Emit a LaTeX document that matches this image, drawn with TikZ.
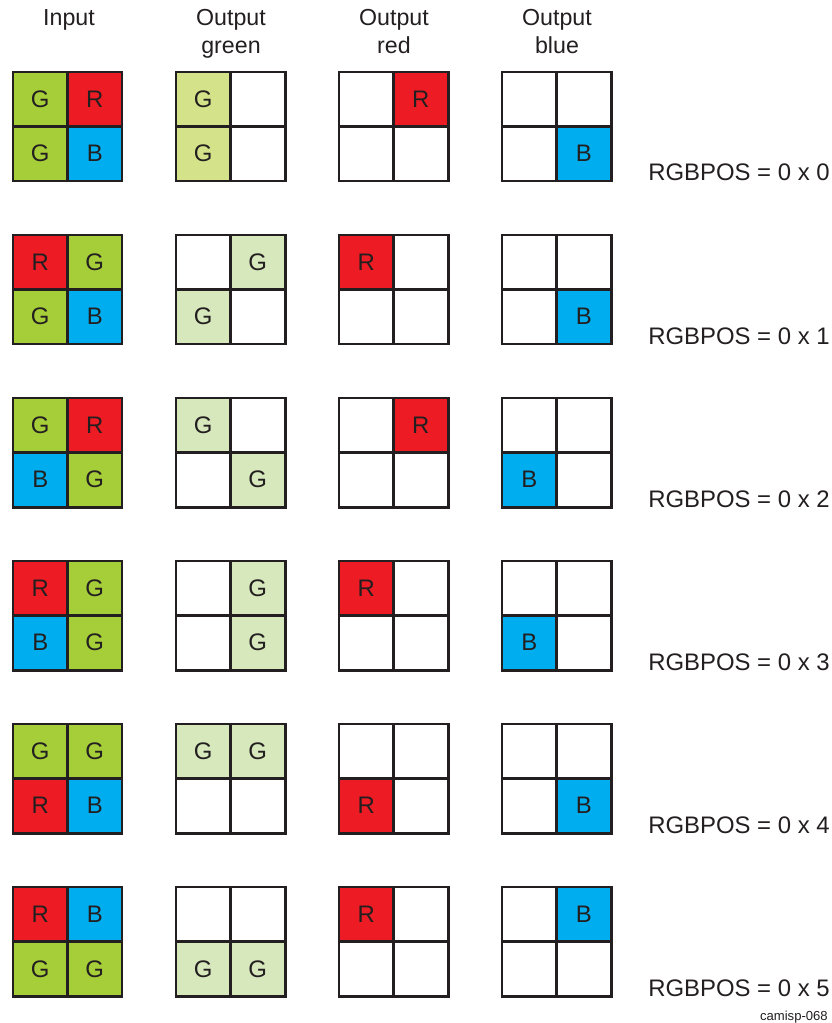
\documentclass[tikz,border=0pt]{standalone}
\usepackage{fontspec}
\setmainfont{Liberation Sans}
\usetikzlibrary{positioning}

\definecolor{inkgray}{RGB}{35,31,32}
\definecolor{bayergreen}{RGB}{166,206,57}
\definecolor{bayerred}{RGB}{237,28,36}
\definecolor{bayerblue}{RGB}{0,174,239}
\definecolor{paleyellowgreen}{RGB}{212,227,138}
\definecolor{palegreen}{RGB}{214,232,188}

\begin{document}
\begin{tikzpicture}[
    x=0.025cm, y=-0.025cm,
    node distance=0pt and 0pt,
    cell/.style={rectangle, draw=inkgray, line width=2.1pt, minimum size=1.3625cm,
                 inner sep=0pt, outer sep=0pt, text=inkgray,
                 font=\fontsize{17}{20}\selectfont},
    pG/.style={cell, fill=bayergreen, node contents=G},
    pR/.style={cell, fill=bayerred, node contents=R},
    pB/.style={cell, fill=bayerblue, node contents=B},
    oGy/.style={cell, fill=paleyellowgreen, node contents=G},
    oG/.style={cell, fill=palegreen, node contents=G},
    blank/.style={cell, fill=white, node contents={}},
    head/.style={anchor=north, align=center, inner sep=0pt, text=inkgray,
                 font=\fontsize{16.5}{19.5}\selectfont},
    poslabel/.style={anchor=base west, inner sep=0pt, text=inkgray,
                     font=\fontsize{17}{20}\selectfont}
]
    \useasboundingbox (0,0) rectangle (831,1023);

    % column headings
    \node [head] (head-in)    at (69,9.5)  {Input};
    \node [head] (head-green) at (231,9.5) {Output\\green};
    \node [head] (head-red)   at (394,9.5) {Output\\red};
    \node [head] (head-blue)  at (557,9.5) {Output\\blue};

    % 2x2 pixel grids: column/row/top-left/top-right/bottom-left/bottom-right
    \foreach \col/\row/\pa/\pb/\pc/\pd in {
        0/0/pG/pR/pG/pB,       1/0/oGy/blank/oGy/blank, 2/0/blank/pR/blank/blank, 3/0/blank/blank/blank/pB,
        0/1/pR/pG/pG/pB,       1/1/blank/oG/oG/blank,   2/1/pR/blank/blank/blank, 3/1/blank/blank/blank/pB,
        0/2/pG/pR/pB/pG,       1/2/oG/blank/blank/oG,   2/2/blank/pR/blank/blank, 3/2/blank/blank/pB/blank,
        0/3/pR/pG/pB/pG,       1/3/blank/oG/blank/oG,   2/3/pR/blank/blank/blank, 3/3/blank/blank/pB/blank,
        0/4/pG/pG/pR/pB,       1/4/oG/oG/blank/blank,   2/4/blank/blank/pR/blank, 3/4/blank/blank/blank/pB,
        0/5/pR/pB/pG/pG,       1/5/blank/blank/oG/oG,   2/5/pR/blank/blank/blank, 3/5/blank/pB/blank/blank}
    {
        \node (g\col\row-a) at ({40.25+163*\col},{99.25+163*\row}) [\pa];
        \node (g\col\row-b) [right=of g\col\row-a, \pb];
        \node (g\col\row-c) [below=of g\col\row-a, \pc];
        \node (g\col\row-d) [right=of g\col\row-c, \pd];
    }

    % RGBPOS values
    \foreach \row in {0,...,5}
        \node [poslabel] (pos-\row) at (648,{181+163*\row}) {RGBPOS = 0 x \row};

    \node [anchor=base east, inner sep=0pt, text=inkgray, font=\fontsize{9.3}{11}\selectfont]
        (figid) at (828,1020) {camisp-068};
\end{tikzpicture}
\end{document}
